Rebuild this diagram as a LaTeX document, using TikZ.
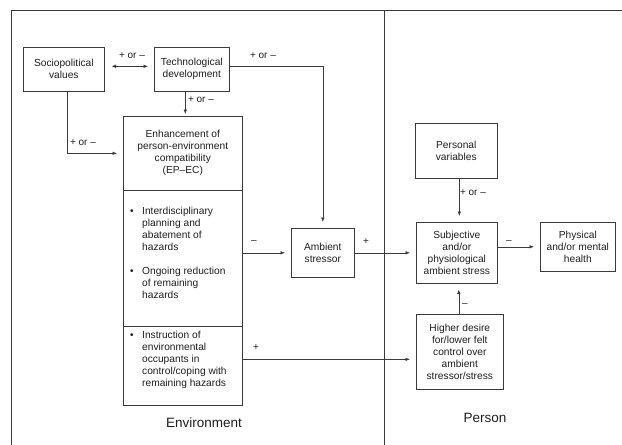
\documentclass[tikz,border=0pt]{standalone}
\usepackage{fontspec}
\setmainfont{Liberation Sans}
\usetikzlibrary{arrows.meta,calc}
\definecolor{ln}{HTML}{3A3A3A}
\definecolor{tx}{HTML}{1E1E1E}
\tikzset{
  box/.style={draw=ln, line width=0.6pt, inner sep=0pt, anchor=north west, align=center, text=tx, font=\fontsize{10.2}{12}\selectfont},
  txt/.style={inner sep=0pt, text=tx, font=\fontsize{10.2}{12}\selectfont},
  lbl/.style={inner sep=0pt, text=tx, font=\fontsize{10}{12}\selectfont},
  big/.style={inner sep=0pt, text=tx, font=\fontsize{13.5}{16}\selectfont},
  conn/.style={draw=ln, line width=0.6pt, -{Latex[length=4.5pt,width=3.6pt]}, shorten >=6pt},
  frame/.style={draw=ln, line width=0.6pt}
}
\begin{document}
\begin{tikzpicture}[x=1pt,y=-1pt]
\useasboundingbox (0,0) rectangle (622,445);
% frame
\draw[frame] (622,10) -- (11,10) -- (11,445);
\draw[frame] (384,10) -- (384,445);
% boxes
\node[box, minimum width=81pt, minimum height=44pt] (soc) at (23,47) {Sociopolitical\\values};
\node[box, minimum width=75pt, minimum height=44pt] (tech) at (154,47) {Technological\\development};
\node[box, minimum width=119pt, minimum height=74pt] (ep) at (123,116) {Enhancement of\\person-environment\\compatibility\\(EP--EC)};
\node[box, minimum width=119pt, minimum height=136pt] (plan) at (123,190) {};
\node[box, minimum width=119pt, minimum height=79pt] (instr) at (123,326) {};
\node[box, minimum width=63pt, minimum height=49pt] (amb) at (291,228) {Ambient\\stressor};
\node[box, minimum width=82pt, minimum height=55pt] (pers) at (415,123) {Personal\\variables};
\node[box, minimum width=81pt, minimum height=61pt] (subj) at (416,222) {Subjective\\and/or\\physiological\\ambient stress};
\node[box, minimum width=75pt, minimum height=49pt] (phys) at (540,222) {Physical\\and/or mental\\health};
\node[box, minimum width=87pt, minimum height=75pt] (high) at (416,314) {Higher desire\\for/lower felt\\control over\\ambient\\stressor/stress};
% bullet texts
\node[txt, anchor=north west] (plantxt) at (130,206) {\begin{tabular}{@{}p{8pt}@{\hspace{4pt}}l@{}}
• & Interdisciplinary\\ & planning and\\ & abatement of\\ & hazards\\[12pt]
• & Ongoing reduction\\ & of remaining\\ & hazards\end{tabular}};
\node[txt, anchor=north west] (instrtxt) at (130,330) {\begin{tabular}{@{}p{8pt}@{\hspace{4pt}}l@{}}
• & Instruction of\\ & environmental\\ & occupants in\\ & control/coping with\\ & remaining hazards\end{tabular}};
% connectors
\draw[conn, {Latex[length=4.5pt,width=3.6pt]}-{Latex[length=4.5pt,width=3.6pt]}, shorten <=7pt] ([yshift=3pt]soc.east) -- ([yshift=3pt]tech.west);
\draw[conn] ([yshift=3pt]tech.east) -| (amb.north);
\draw[conn, shorten >=2pt] ([xshift=-6.5pt]tech.south) -- ([xshift=2.5pt]ep.north);
\draw[conn] ([xshift=3.5pt]soc.south) |- (ep.west);
\draw[conn] (amb.west -| plan.east) -- (amb.west);
\draw[conn] (amb.east) -- (subj.west);
\draw[conn] ([yshift=6pt]subj.east) -- ([yshift=6pt]subj.east -| phys.west);
\draw[conn] ([xshift=3pt]pers.south) -- ([xshift=3pt]pers.south |- subj.north);
\draw[conn] ([xshift=-1pt]high.north) -- ([xshift=-1pt]high.north |- subj.south);
\draw[conn] ([yshift=6.5pt]instr.east) -- ([yshift=6.5pt]instr.east -| high.west);
% labels
\node[lbl] (l1) at (132,56) {+ or –};
\node[lbl] (l2) at (263,56) {+ or –};
\node[lbl] (l3) at (201,100) {+ or –};
\node[lbl] (l4) at (83,143) {+ or –};
\node[lbl] (l5) at (254,242) {–};
\node[lbl] (l6) at (366,242) {+};
\node[lbl] (l7) at (509,242) {–};
\node[lbl] (l8) at (473,193) {+ or –};
\node[lbl] (l9) at (465,305) {–};
\node[lbl] (l10) at (256,348) {+};
\node[big] (env) at (204,423) {Environment};
\node[big] (per) at (485,418) {Person};
\end{tikzpicture}
\end{document}
